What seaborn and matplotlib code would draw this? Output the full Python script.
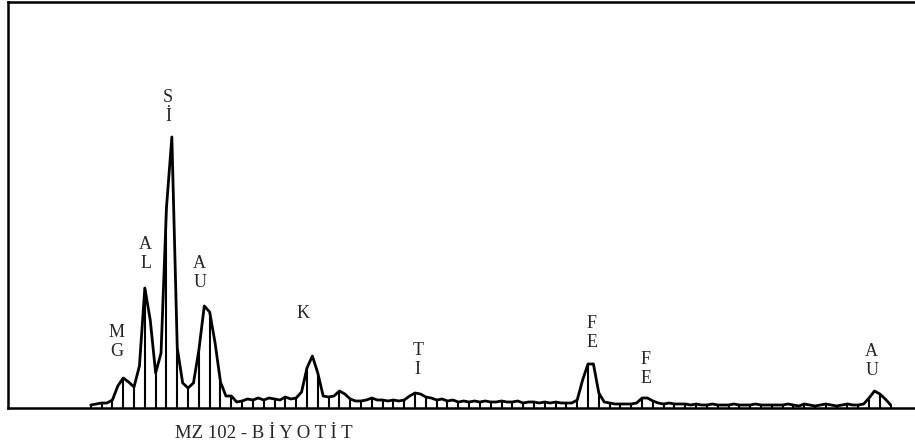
import matplotlib
matplotlib.use("Agg")
import matplotlib.pyplot as plt
import seaborn as sns
import numpy as np
import pandas as pd

# EDS spectrum, one value per channel (channel width 0.06 keV, starting at 0.85 keV)
counts = [
    3, 4, 5, 5, 8, 22, 30, 26, 21, 42,
    120, 88, 35, 55, 200, 271, 60, 25, 20, 25,
    58, 102, 96, 65, 26, 12, 12, 6, 7, 9,
    8, 10, 8, 10, 9, 8, 11, 9, 10, 16,
    40, 52, 35, 12, 11, 12, 17, 14, 9, 7,
    7, 8, 10, 8, 8, 7, 8, 7, 8, 12,
    15, 14, 11, 10, 8, 9, 7, 8, 6, 7,
    6, 7, 6, 7, 6, 6, 7, 6, 6, 7,
    5, 6, 6, 5, 6, 5, 6, 5, 5, 5,
    8, 28, 44, 44, 15, 6, 5, 4, 4, 4,
    4, 5, 10, 10, 7, 5, 4, 5, 4, 4,
    4, 3, 4, 3, 3, 4, 3, 3, 3, 4,
    3, 3, 3, 4, 3, 3, 3, 3, 3, 4,
    3, 2, 4, 3, 2, 3, 4, 3, 2, 3,
    4, 3, 3, 4, 10, 17, 14, 9, 3,
]
start_kev = 0.85
step_kev = 0.06
energy = start_kev + step_kev * np.arange(len(counts))

# element labels: text, energy (keV), height of label centre
label_text = ["M\nG", "A\nL", "S\nİ", "A\nU", "K", "T\nI", "F\nE", "F\nE", "A\nU"]
label_kev = [1.14, 1.46, 1.71, 2.06, 3.21, 4.48, 6.41, 7.01, 9.52]
label_y = [66, 154, 301, 135, 94, 48, 75, 39, 47]

sample_name = "MZ 102 - B İ Y O T İ T"

df = pd.DataFrame({"energy": energy, "counts": counts})

sns.set_style("white")
plt.rcParams["font.family"] = ["Liberation Serif", "DejaVu Serif"]

fig = plt.figure(figsize=(9.15, 4.46), dpi=100)
ax = fig.add_axes([8 / 915, 1 - 408 / 446, 1 - 8 / 915, 406.5 / 446])

sns.lineplot(data=df, x="energy", y="counts", ax=ax, color="black", linewidth=2.0)

# drop lines on every second channel
ax.vlines(df["energy"][::2], 0, df["counts"][::2], color="black", linewidth=1.5)

for t, x, y in zip(label_text, label_kev, label_y):
    ax.text(x, y, t, ha="center", va="center", fontsize=13, linespacing=1.1)

ax.set_xlim(-0.069, 10.0)
ax.set_ylim(0, 406.5)
ax.set_xticks([])
ax.set_yticks([])
ax.set_xlabel("")
ax.set_ylabel("")

for side in ["left", "top", "bottom"]:
    ax.spines[side].set_visible(True)
    ax.spines[side].set_color("black")
    ax.spines[side].set_linewidth(1.8)
ax.spines["right"].set_visible(False)

fig.text(263.5 / 915, 1 - 433 / 446, sample_name, ha="center", va="center", fontsize=13.5)

fig.savefig("out.png", dpi=100, facecolor="white")
plt.close()
